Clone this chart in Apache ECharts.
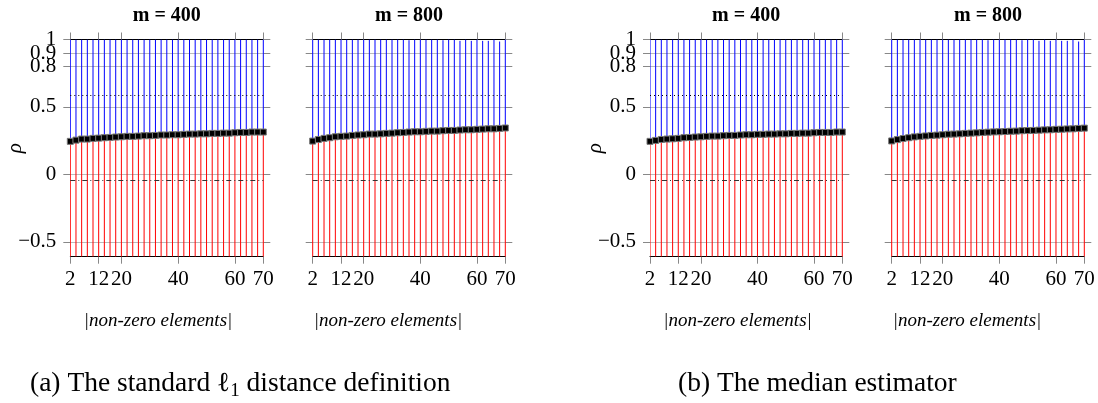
<!DOCTYPE html>
<html>
<head>
<meta charset="utf-8">
<script src="https://cdn.jsdelivr.net/npm/echarts@6/dist/echarts.min.js"></script>
<style>
  html, body { margin: 0; padding: 0; background: #fff; }
  #chart { width: 1098px; height: 403px; }
</style>
</head>
<body>
<div id="chart"></div>
<script>
// x positions of the error bars
var xVals = [2, 4, 6, 8, 10, 12, 14, 16, 18, 20, 22, 24, 26, 28, 30, 32, 34, 36,
             38, 40, 42, 44, 46, 48, 50, 52, 54, 56, 58, 60, 62, 64, 66, 68, 70];
var xTicks = [2, 12, 20, 40, 60, 70];
var yTicks = [-0.5, 0, 0.5, 0.8, 0.9, 1];
// the labels 1 / 0.9 / 0.8 overlap, so they are split over two label sets
var yLabelsA = [-0.5, 0, 0.5, 0.9];
var yLabelsB = [0.8, 1];

// mean rho (black squares)
var meanL1m400 = [0.245, 0.254, 0.262, 0.262, 0.267, 0.269, 0.272, 0.274, 0.277, 0.279, 0.282, 0.282,
                  0.284, 0.287, 0.287, 0.289, 0.292, 0.292, 0.294, 0.294, 0.297, 0.299, 0.299, 0.301,
                  0.301, 0.304, 0.304, 0.306, 0.306, 0.309, 0.311, 0.311, 0.314, 0.314, 0.314];
var meanL1m800 = [0.247, 0.259, 0.267, 0.272, 0.279, 0.282, 0.284, 0.289, 0.292, 0.294, 0.299, 0.299,
                  0.301, 0.304, 0.306, 0.309, 0.311, 0.314, 0.316, 0.316, 0.319, 0.321, 0.321, 0.324,
                  0.326, 0.326, 0.329, 0.331, 0.331, 0.334, 0.336, 0.338, 0.338, 0.341, 0.344];
var meanMedm400 = [0.245, 0.252, 0.259, 0.262, 0.264, 0.267, 0.272, 0.274, 0.277, 0.279, 0.282, 0.284,
                   0.284, 0.287, 0.289, 0.289, 0.292, 0.294, 0.294, 0.297, 0.297, 0.299, 0.299, 0.301,
                   0.301, 0.304, 0.304, 0.306, 0.306, 0.309, 0.311, 0.311, 0.311, 0.314, 0.314];
var meanMedm800 = [0.248, 0.258, 0.266, 0.272, 0.278, 0.282, 0.285, 0.289, 0.291, 0.294, 0.298, 0.299,
                   0.301, 0.304, 0.306, 0.308, 0.311, 0.313, 0.315, 0.316, 0.318, 0.320, 0.321, 0.324,
                   0.325, 0.326, 0.328, 0.330, 0.331, 0.334, 0.335, 0.337, 0.338, 0.341, 0.343];

// whisker ends (max above, min below)
var upperM400 = [1, 1, 1, 1, 1, 1, 1, 1, 1, 1, 1, 1, 1, 1, 1, 1, 1, 1,
                 1, 1, 1, 1, 1, 1, 1, 1, 1, 1, 1, 1, 1, 1, 1, 1, 1];
var upperM800 = [1, 1, 1, 1, 1, 1, 1, 1, 1, 1, 1, 1, 1, 1, 1, 1, 1, 0.995,
                 1, 1, 1, 1, 1, 0.995, 1, 1, 0.99, 1, 0.99, 1, 0.99, 0.99, 1, 0.985, 1];
var lowerAll = [-0.61, -0.61, -0.61, -0.61, -0.61, -0.61, -0.61, -0.61, -0.61, -0.61, -0.61, -0.61,
                -0.61, -0.61, -0.61, -0.61, -0.61, -0.61, -0.61, -0.61, -0.61, -0.61, -0.61, -0.61,
                -0.61, -0.61, -0.61, -0.61, -0.61, -0.61, -0.61, -0.61, -0.61, -0.61, -0.61];

var refDotted = 0.59;
var refDashDot = -0.04;

var serif = '"Liberation Serif", "Times New Roman", serif';

var panels = [
  { left: 70.3, width: 193, mean: meanL1m400, upper: upperM400, title: 'm = 400', labels: true, nameX: 158 },
  { left: 312.7, width: 192.6, mean: meanL1m800, upper: upperM800, title: 'm = 800', labels: false, nameX: 388 },
  { left: 650, width: 192.3, mean: meanMedm400, upper: upperM400, title: 'm = 400', labels: true, nameX: 737.5 },
  { left: 891.7, width: 192.6, mean: meanMedm800, upper: upperM800, title: 'm = 800', labels: false, nameX: 967 }
];

var plotTop = 39.5, plotH = 217.2;

var grids = [], xAxes = [], yAxes = [], series = [], graphics = [];

function fmtY(v) {
  return v < 0 ? '\u2212' + Math.abs(v) : String(v);
}

function yLabelStyle(show, values) {
  return { show: show, customValues: values, margin: 14, fontFamily: serif, fontSize: 21,
           color: '#000', formatter: fmtY, showMinLabel: true, showMaxLabel: true, hideOverlap: false };
}

panels.forEach(function (p, i) {
  grids.push({ left: p.left, width: p.width, top: plotTop, height: plotH, outerBoundsMode: 'none' });

  xAxes.push({
    gridIndex: i, type: 'value', min: 2, max: 70, position: 'bottom',
    axisLine: { show: true, onZero: false, lineStyle: { color: '#000', width: 1 } },
    axisTick: { show: true, inside: false, length: 7, customValues: xTicks, lineStyle: { color: '#888' } },
    axisLabel: { show: true, customValues: xTicks, margin: 12, fontFamily: serif, fontSize: 21, color: '#000',
                 showMinLabel: true, showMaxLabel: true, hideOverlap: false },
    splitLine: { show: false }
  });
  xAxes.push({
    gridIndex: i, type: 'value', min: 2, max: 70, position: 'top',
    axisLine: { show: true, onZero: false, lineStyle: { color: '#000', width: 1 } },
    axisTick: { show: true, inside: false, length: 7, customValues: xTicks, lineStyle: { color: '#888' } },
    axisLabel: { show: false },
    splitLine: { show: false }
  });

  // 3*i: left axis with ticks, grid lines and most labels
  yAxes.push({
    gridIndex: i, type: 'value', min: -0.61, max: 1, position: 'left',
    axisLine: { show: false },
    axisTick: { show: true, inside: false, length: 7, customValues: yTicks, lineStyle: { color: '#888' } },
    axisLabel: yLabelStyle(p.labels, yLabelsA),
    splitLine: { show: true, lineStyle: { color: '#bbb', width: 1 } }
  });
  // 3*i+1: right axis, ticks only
  yAxes.push({
    gridIndex: i, type: 'value', min: -0.61, max: 1, position: 'right',
    axisLine: { show: false },
    axisTick: { show: true, inside: false, length: 7, customValues: yTicks, lineStyle: { color: '#888' } },
    axisLabel: { show: false },
    splitLine: { show: false }
  });
  // 3*i+2: left axis carrying the labels that would collide
  yAxes.push({
    gridIndex: i, type: 'value', min: -0.61, max: 1, position: 'left', offset: 0,
    axisLine: { show: false },
    axisTick: { show: false },
    axisLabel: yLabelStyle(p.labels, yLabelsB),
    splitLine: { show: false }
  });

  series.push({
    type: 'custom',
    xAxisIndex: 2 * i, yAxisIndex: 3 * i,
    clip: true, silent: true, z: 2,
    data: xVals.map(function (x, k) { return [x, p.mean[k], lowerAll[k], p.upper[k]]; }),
    renderItem: function (params, api) {
      var x = api.value(0);
      var pLo = api.coord([x, api.value(2)]);
      var pM = api.coord([x, api.value(1)]);
      var pHi = api.coord([x, api.value(3)]);
      return {
        type: 'group',
        children: [
          { type: 'line', shape: { x1: pLo[0], y1: pLo[1], x2: pM[0], y2: pM[1] },
            style: { stroke: '#ff0000', lineWidth: 1 } },
          { type: 'line', shape: { x1: pM[0], y1: pM[1], x2: pHi[0], y2: pHi[1] },
            style: { stroke: '#0000ff', lineWidth: 1 } }
        ]
      };
    }
  });

  series.push({
    type: 'scatter',
    xAxisIndex: 2 * i, yAxisIndex: 3 * i,
    symbol: 'rect', symbolSize: 6, z: 4, silent: true,
    itemStyle: { color: '#000', borderColor: '#777', borderWidth: 1, opacity: 1 },
    data: xVals.map(function (x, k) { return [x, p.mean[k]]; }),
    markLine: {
      silent: true, symbol: 'none', label: { show: false },
      data: [
        { yAxis: refDotted, lineStyle: { color: '#000', width: 1, type: [1, 3] } },
        { yAxis: refDashDot, lineStyle: { color: '#333', width: 1, type: [5, 3, 1, 3] } }
      ]
    }
  });

  graphics.push({
    type: 'text', x: p.left + p.width / 2, y: 16,
    style: { text: p.title, fontFamily: serif, fontWeight: 'bold', fontSize: 20, fill: '#000',
             textAlign: 'center', textVerticalAlign: 'middle' }
  });
  graphics.push({
    type: 'text', x: p.nameX, y: 321,
    style: { text: '|non-zero elements|', fontFamily: serif, fontStyle: 'italic', fontSize: 19, fill: '#000',
             textAlign: 'center', textVerticalAlign: 'middle' }
  });
  if (p.labels) {
    graphics.push({
      type: 'text', x: p.left - 55, y: plotTop + plotH / 2, rotation: Math.PI / 2,
      style: { text: '\u03c1', fontFamily: serif, fontStyle: 'italic', fontSize: 21, fill: '#000',
               textAlign: 'center', textVerticalAlign: 'middle' }
    });
  }
});

var capRich = {
  n: { fontFamily: serif, fontSize: 27.5, lineHeight: 34, fill: '#000' },
  s: { fontFamily: serif, fontSize: 19, lineHeight: 19, verticalAlign: 'bottom', fill: '#000' }
};
graphics.push({
  type: 'text', x: 30, y: 384,
  style: { text: '{n|(a) The standard \u2113}{s|1}{n| distance definition}', rich: capRich,
           textAlign: 'left', textVerticalAlign: 'middle' }
});
graphics.push({
  type: 'text', x: 678, y: 384,
  style: { text: '{n|(b) The median estimator}', rich: capRich,
           textAlign: 'left', textVerticalAlign: 'middle' }
});

var myChart = echarts.init(document.getElementById('chart'));
myChart.setOption({
  animation: false,
  backgroundColor: '#fff',
  grid: grids,
  xAxis: xAxes,
  yAxis: yAxes,
  series: series,
  graphic: graphics
});
</script>
</body>
</html>
